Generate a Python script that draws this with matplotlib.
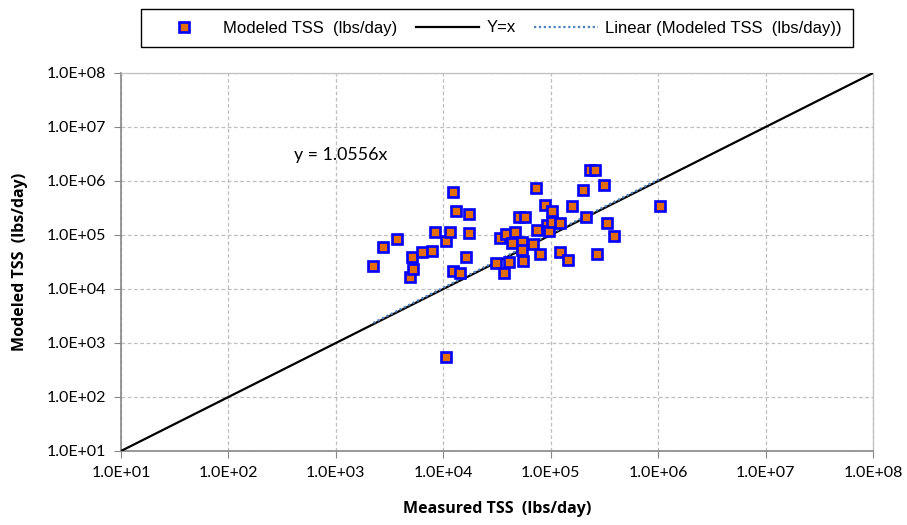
import matplotlib
matplotlib.use("Agg")
import matplotlib.pyplot as plt
import numpy as np
from matplotlib.lines import Line2D

# measured vs modeled TSS loads (lbs/day)
measured = [2230, 2740, 3700, 4890, 5070, 5180, 6290, 7910, 8310, 10700,
            11500, 12400, 13000, 17300, 17300, 16300, 12200, 14300, 10500,
            30800, 33600, 36800, 38200, 40700, 43200, 46300, 50200, 57100,
            53900, 53900, 54700, 68200, 72300, 73900, 79800, 88900, 91600,
            96800, 102000, 103000, 123000, 122000, 145000, 158000, 200000,
            232000, 257000, 316000, 212000, 332000, 391000, 268000, 1040000]
modeled = [26300, 60700, 85300, 16700, 39600, 23200, 47800, 49900, 115000,
           78400, 112000, 634000, 278000, 248000, 110000, 39600, 21600, 19500,
           543, 30700, 86900, 20000, 103000, 31200, 72000, 115000, 218000,
           218000, 73300, 52800, 33000, 68100, 733000, 124000, 44500, 359000,
           153000, 119000, 278000, 176000, 165000, 47800, 34000, 349000,
           673000, 1580000, 1580000, 843000, 218000, 165000, 97000, 45100,
           340000]
slope = 1.0556
axis_lim = [1e1, 1e8]
tick_vals = [1e1, 1e2, 1e3, 1e4, 1e5, 1e6, 1e7, 1e8]
tick_labels = ["1.0E+01", "1.0E+02", "1.0E+03", "1.0E+04",
               "1.0E+05", "1.0E+06", "1.0E+07", "1.0E+08"]

orange = "#E46C0A"
blue = "#0000FF"
trend_color = "#4F81BD"
grid_color = "#BFBFBF"

fig = plt.figure(figsize=(9.07, 5.25), dpi=100)
ax = fig.add_axes([121 / 907, 1 - 451 / 525, (873 - 121) / 907, (451 - 73) / 525])
ax.set_xscale("log")
ax.set_yscale("log")
ax.set_xlim(axis_lim)
ax.set_ylim(axis_lim)

# Y = x reference line
ax.plot(axis_lim, axis_lim, color="black", lw=1.6, zorder=3)

# trendline through origin over the data range
xt = np.array([min(measured), max(measured)])
ax.plot(xt, slope * xt, color=trend_color, lw=1.6, ls=(0, (1, 1.2)), zorder=4)

ax.plot(measured, modeled, ls="none", marker="s", markersize=6.8,
        markerfacecolor=orange, markeredgecolor=blue, markeredgewidth=1.9,
        zorder=5)

ax.text(411, 3.03e6, "y = 1.0556x", fontsize=12.8, family="Lato",
        va="center", ha="left")

ax.set_xticks(tick_vals)
ax.set_xticklabels(tick_labels)
ax.set_yticks(tick_vals)
ax.set_yticklabels(tick_labels)
ax.minorticks_off()
ax.tick_params(axis="both", direction="out", length=5, color="#868686",
               labelsize=11.5, pad=6)
for lab in ax.get_xticklabels() + ax.get_yticklabels():
    lab.set_family("Lato")

ax.grid(True, color=grid_color, ls=(0, (3, 2)), lw=0.9)
ax.set_axisbelow(True)
for side in ["left", "bottom"]:
    ax.spines[side].set_color("#868686")
    ax.spines[side].set_linewidth(1.2)
for side in ["top", "right"]:
    ax.spines[side].set_color(grid_color)
    ax.spines[side].set_linewidth(0.9)

ax.set_xlabel("Measured TSS  (lbs/day)", fontsize=11.5, fontweight="bold",
              family="Open Sans", labelpad=15)
ax.set_ylabel("Modeled TSS  (lbs/day)", fontsize=11.5, fontweight="bold",
              family="Open Sans", labelpad=13)

handles = [
    Line2D([], [], ls="none", marker="s", markersize=6.8,
           markerfacecolor=orange, markeredgecolor=blue, markeredgewidth=1.9),
    Line2D([], [], color="black", lw=1.6),
    Line2D([], [], color=trend_color, lw=1.6, ls=(0, (1, 1.2))),
]
labels = ["Modeled TSS  (lbs/day)", "Y=x", "Linear (Modeled TSS  (lbs/day))"]
leg = fig.legend(handles, labels, loc="center", ncol=3,
                 bbox_to_anchor=(497 / 907, 1 - 28 / 525),
                 frameon=True, fancybox=False, edgecolor="black",
                 framealpha=1, handlelength=3.8, handletextpad=0.45,
                 columnspacing=1.1, borderpad=0.7,
                 prop={"family": "Liberation Sans", "size": 12})
leg.get_frame().set_linewidth(1.0)

fig.savefig("out.png", dpi=100)
